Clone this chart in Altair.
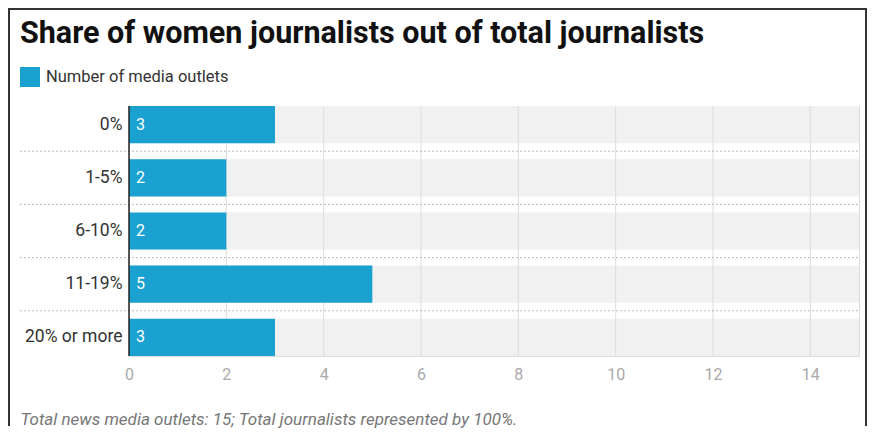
import altair as alt
import pandas as pd

# ---- data ----
categories = ["0%", "1-5%", "6-10%", "11-19%", "20% or more"]
outlets = [3, 2, 2, 5, 3]
axis_max = 15
x_ticks = [0, 2, 4, 6, 8, 10, 12, 14]
grid_values = [2, 4, 6, 8, 10, 12, 14]
series_name = "Number of media outlets"
title_text = "Share of women journalists out of total journalists"
footer_text = "Total news media outlets: 15; Total journalists represented by 100%."

BLUE = "#1aa1cf"
FONT = "Roboto"

df = pd.DataFrame({
    "category": categories,
    "count": outlets,
    "max": [axis_max] * len(categories),
    "series": [series_name] * len(categories),
})
sep_df = pd.DataFrame({"category": categories[1:]})
grid_df = pd.DataFrame({"v": grid_values})
zero_df = pd.DataFrame({"v": [0]})
frame_df = pd.DataFrame({"a": [0]})

xscale = alt.Scale(domain=[0, axis_max], nice=False, zero=True)
yscale = alt.Scale(paddingInner=0.3, paddingOuter=0)
yenc = alt.Y("category:N", sort=categories, scale=yscale,
             axis=alt.Axis(title=None, ticks=False, domain=False, grid=False,
                           labelFontSize=17.5, labelColor="#333", labelPadding=7,
                           labelFont=FONT))

background = alt.Chart(df).mark_bar(color="#f1f1f1").encode(
    x=alt.X("max:Q", scale=xscale, title=footer_text,
            axis=alt.Axis(values=x_ticks, grid=False, ticks=False, domain=False,
                          labelColor="#aaaaaa", labelFontSize=16, labelPadding=10,
                          labelFont=FONT, labelFlush=False,
                          titleFont=FONT, titleFontSize=17, titleFontStyle="italic",
                          titleFontWeight="normal", titleColor="#777777",
                          titleAnchor="start", titleAlign="left",
                          titleBaseline="alphabetic", titleX=-109, titleY=68)),
    y=yenc,
)

grid = alt.Chart(grid_df).mark_rule(color="#dddddd", strokeWidth=1).encode(
    x=alt.X("v:Q", scale=xscale, title=footer_text)
)

bars = alt.Chart(df).mark_bar().encode(
    x=alt.X("count:Q", scale=xscale, title=footer_text),
    y=yenc,
    color=alt.Color("series:N", scale=alt.Scale(range=[BLUE]),
                    legend=alt.Legend(orient="none", legendX=-109, legendY=-39,
                                      title=None, symbolType="square",
                                      symbolSize=400, symbolStrokeWidth=0,
                                      symbolOpacity=1, labelFontSize=16.5,
                                      labelFont=FONT, labelColor="#333333",
                                      labelOffset=6, labelLimit=0)),
)

zero = alt.Chart(zero_df).mark_rule(color="#222222", strokeWidth=1.5).encode(
    x=alt.X("v:Q", scale=xscale, title=footer_text)
)

labels = alt.Chart(df).mark_text(align="left", baseline="middle", dx=7,
                                 color="white", fontSize=16, font=FONT).encode(
    x=alt.datum(0),
    y=yenc,
    text="count:Q",
)

separators = alt.Chart(sep_df).mark_rule(color="#bbbbbb", strokeDash=[2, 2],
                                         strokeWidth=1, yOffset=-8).encode(
    y=alt.Y("category:N", sort=categories, scale=yscale, bandPosition=0),
    x=alt.value(-109),
    x2=alt.value(730),
)

frame = alt.Chart(frame_df).mark_rule(color="#333333", strokeWidth=2)
frame_left = frame.encode(x=alt.value(-120), y=alt.value(-97), y2=alt.value(320))
frame_top = frame.encode(x=alt.value(-121), x2=alt.value(738), y=alt.value(-97))
frame_right = frame.encode(x=alt.value(737), y=alt.value(-97), y2=alt.value(320))

chart = alt.layer(
    background, grid, separators, bars, zero, labels,
    frame_left, frame_top, frame_right,
).properties(
    width=730,
    height=250,
    title=alt.Title(title_text, anchor="start", frame="group", dx=-109,
                    font=FONT, fontSize=30.5, fontWeight="bold", color="#111111",
                    baseline="alphabetic", offset=-65),
    autosize=alt.AutoSizeParams(type="none"),
    padding={"left": 121, "top": 98, "right": 9, "bottom": 73},
).configure_view(stroke=None).configure(background="white")

chart.save("out.html", embed_options={"renderer": "svg", "actions": False})
